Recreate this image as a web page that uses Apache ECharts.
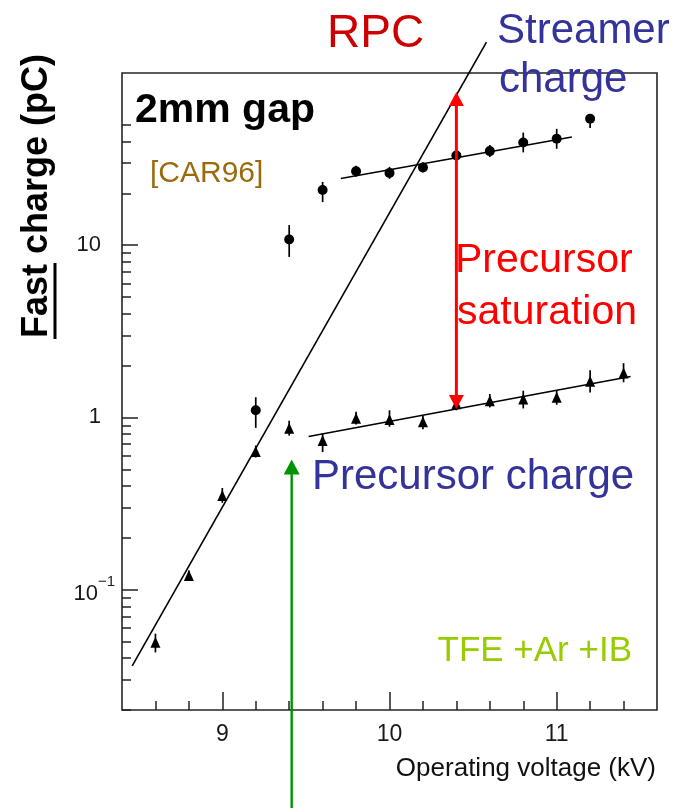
<!DOCTYPE html>
<html>
<head>
<meta charset="utf-8">
<script src="https://cdn.jsdelivr.net/npm/echarts@6/dist/echarts.min.js"></script>
<style>
  html, body { margin: 0; padding: 0; background: #fff; }
  #chart { width: 679px; height: 808px; }
</style>
</head>
<body>
<div id="chart"></div>
<script>
// ---- axis ticks ----
const voltageTicksMajor = [9, 10, 11];
const voltageTicksMinor = [8.6, 8.8, 9.2, 9.4, 9.6, 9.8, 10.2, 10.4, 10.6, 10.8, 11.2, 11.4];
const chargeTicksMajor = [0.1, 1, 10];
const chargeTicksMinor = [0.02, 0.03, 0.04, 0.05, 0.06, 0.07, 0.08, 0.09,
                          0.2, 0.3, 0.4, 0.5, 0.6, 0.7, 0.8, 0.9,
                          2, 3, 4, 5, 6, 7, 8, 9,
                          20, 30, 40, 50];

// ---- streamer charge (circles), pC ----
const streamerVolts  = [9.2, 9.4, 9.6, 9.8, 10.0, 10.2, 10.4, 10.6, 10.8, 11.0, 11.2];
const streamerCharge = [1.10, 10.8, 20.9, 26.9, 26.3, 28.3, 33.2, 35.2, 39.5, 41.5, 54.2];
const streamerLow    = [0.87, 8.55, 17.8, 25.0, 24.3, 26.5, 30.2, 32.5, 34.6, 36.3, 47.9];
const streamerHigh   = [1.31, 13.1, 23.3, 28.9, 28.5, 30.3, 36.5, 38.2, 45.1, 47.4, 54.2];

// ---- precursor charge (triangles), pC ----
const precursorVolts  = [8.6, 8.8, 9.0, 9.2, 9.4, 9.6, 9.8, 10.0, 10.2, 10.4, 10.6, 10.8, 11.0, 11.2, 11.4];
const precursorCharge = [0.0494, 0.1206, 0.352, 0.634, 0.866, 0.735, 0.99, 0.973, 0.943, 1.2, 1.25, 1.28, 1.31, 1.62, 1.81];
const precursorLow    = [0.0432, 0.113, 0.319, 0.585, 0.784, 0.629, 0.91, 0.882, 0.854, 1.1, 1.143, 1.128, 1.185, 1.397, 1.60];
const precursorHigh   = [0.0555, 0.129, 0.389, 0.687, 0.957, 0.807, 1.08, 1.10, 1.02, 1.33, 1.368, 1.43, 1.443, 1.876, 2.066];

// ---- fitted trends ----
const avalancheFitVolts  = [8.461, 10.580];
const avalancheFitCharge = [0.0361, 151];
const streamerFitVolts   = [9.709, 11.091];
const streamerFitCharge  = [24.4, 42.5];
const precursorFitVolts  = [9.516, 11.442];
const precursorFitCharge = [0.774, 1.727];

// ---- annotation arrows: [kV, tail pC, tip pC] ----
const saturationArrow = [10.4, 1.12, 77.5];
const onsetArrow      = [9.415, 0.0053, 0.57];

const FONT = '"Liberation Sans", Arial, Helvetica, sans-serif';

const zip = (a, b) => a.map((v, i) => [v, b[i]]);
const zip3 = (a, b, c) => a.map((v, i) => [v, b[i], c[i]]);

function errorBar(params, api) {
  const p1 = api.coord([api.value(0), api.value(1)]);
  const p2 = api.coord([api.value(0), api.value(2)]);
  return {
    type: 'line',
    shape: { x1: p1[0], y1: p1[1], x2: p2[0], y2: p2[1] },
    style: { stroke: '#000', lineWidth: 1.7 }
  };
}

function arrowRenderer(color, width, headW, headL, doubleHead) {
  return function (params, api) {
    const tail = api.coord([api.value(0), api.value(1)]);
    const tip = api.coord([api.value(0), api.value(2)]);
    const dir = tip[1] < tail[1] ? -1 : 1; // screen direction towards the tip
    const head = (pt, d) => ({
      type: 'polygon',
      shape: { points: [[pt[0], pt[1]], [pt[0] - headW / 2, pt[1] - d * headL], [pt[0] + headW / 2, pt[1] - d * headL]] },
      style: { fill: color }
    });
    const children = [{
      type: 'line',
      shape: {
        x1: tail[0], y1: tail[1] + (doubleHead ? dir * headL * 0.8 : 0),
        x2: tip[0], y2: tip[1] - dir * headL * 0.8
      },
      style: { stroke: color, lineWidth: width }
    }, head(tip, dir)];
    if (doubleHead) children.push(head(tail, -dir));
    return { type: 'group', children };
  };
}

const chart = echarts.init(document.getElementById('chart'), null, { renderer: 'canvas' });

const commonY = { type: 'log', logBase: 10, min: 0.02, max: 100, position: 'left', splitLine: { show: false }, axisLine: { show: false } };
const commonX = { type: 'value', min: 8.4, max: 11.6, position: 'bottom', splitLine: { show: false }, axisLine: { show: false } };

chart.setOption({
  animation: false,
  grid: { left: 122, right: 22, top: 73, bottom: 98, show: true, borderColor: '#262626', borderWidth: 1.6, backgroundColor: 'transparent' },
  xAxis: [
    Object.assign({}, commonX, {
      axisTick: { inside: true, length: 9, customValues: voltageTicksMinor, lineStyle: { color: '#222', width: 1.5 } },
      axisLabel: { show: false }
    }),
    Object.assign({}, commonX, {
      axisTick: { inside: true, length: 18, customValues: voltageTicksMajor, lineStyle: { color: '#222', width: 1.5 } },
      axisLabel: { customValues: voltageTicksMajor, margin: 13, fontSize: 23, color: '#1a1a1a', fontFamily: FONT, formatter: v => String(v) }
    })
  ],
  yAxis: [
    Object.assign({}, commonY, {
      axisTick: { inside: true, length: 9, customValues: chargeTicksMinor, lineStyle: { color: '#222', width: 1.5 } },
      axisLabel: { customValues: [1, 10], margin: 21, fontSize: 22, color: '#1a1a1a', fontFamily: FONT, formatter: v => String(Math.round(v)) }
    }),
    Object.assign({}, commonY, {
      axisTick: { inside: true, length: 16, customValues: chargeTicksMajor, lineStyle: { color: '#222', width: 1.5 } },
      axisLabel: {
        customValues: [0.1], margin: 7, fontFamily: FONT, color: '#1a1a1a',
        formatter: () => '{b|10}{s|\u22121}',
        rich: {
          b: { fontSize: 22, lineHeight: 30, verticalAlign: 'bottom', fontFamily: FONT, color: '#1a1a1a' },
          s: { fontSize: 15, lineHeight: 4, verticalAlign: 'top', fontFamily: FONT, color: '#1a1a1a' }
        }
      }
    })
  ],
  series: [
    { type: 'line', data: zip(avalancheFitVolts, avalancheFitCharge), symbol: 'none', clip: false, silent: true,
      lineStyle: { color: '#000', width: 1.6 }, z: 3 },
    { type: 'line', data: zip(streamerFitVolts, streamerFitCharge), symbol: 'none', silent: true,
      lineStyle: { color: '#000', width: 1.6 }, z: 3 },
    { type: 'line', data: zip(precursorFitVolts, precursorFitCharge), symbol: 'none', silent: true,
      lineStyle: { color: '#000', width: 1.6 }, z: 3 },
    { type: 'custom', renderItem: errorBar, data: zip3(streamerVolts, streamerLow, streamerHigh),
      encode: { x: 0, y: [1, 2] }, z: 4, silent: true },
    { type: 'custom', renderItem: errorBar, data: zip3(precursorVolts, precursorLow, precursorHigh),
      encode: { x: 0, y: [1, 2] }, z: 4, silent: true },
    { type: 'scatter', data: zip(streamerVolts, streamerCharge), symbol: 'circle', symbolSize: 10,
      itemStyle: { color: '#000', opacity: 1 }, z: 5, silent: true },
    { type: 'scatter', data: zip(precursorVolts, precursorCharge), symbol: 'triangle', symbolSize: [10, 11],
      itemStyle: { color: '#000', opacity: 1 }, z: 5, silent: true },
    { type: 'custom', renderItem: arrowRenderer('#ff0000', 3, 15, 14, true), data: [saturationArrow],
      encode: { x: 0, y: [1, 2] }, clip: false, z: 10, silent: true },
    { type: 'custom', renderItem: arrowRenderer('#009300', 2.4, 16, 15, false), data: [onsetArrow],
      encode: { x: 0, y: [1, 2] }, clip: false, z: 10, silent: true }
  ],
  graphic: [
    // vertical axis title with underlined "Fast"
    { type: 'text', x: 37, y: 338, rotation: Math.PI / 2, z: 20,
      style: { text: 'Fast charge (pC)', font: 'bold 36px ' + FONT, fill: '#000', align: 'left', verticalAlign: 'middle' } },
    { type: 'line', shape: { x1: 55, y1: 263, x2: 55, y2: 339 }, style: { stroke: '#000', lineWidth: 3 }, z: 20 },
    // horizontal axis title
    { type: 'text', x: 656, y: 769, z: 20,
      style: { text: 'Operating voltage (kV)', font: '26px ' + FONT, fill: '#111', align: 'right', verticalAlign: 'middle' } },
    // labels
    { type: 'text', x: 327, y: 34, z: 20,
      style: { text: 'RPC', font: '46px ' + FONT, fill: '#cc0000', align: 'left', verticalAlign: 'middle' } },
    { type: 'text', x: 497, y: 31, z: 20,
      style: { text: 'Streamer', font: '42px ' + FONT, fill: '#333399', align: 'left', verticalAlign: 'middle' } },
    { type: 'text', x: 499, y: 80, z: 20,
      style: { text: 'charge', font: '42px ' + FONT, fill: '#333399', align: 'left', verticalAlign: 'middle' } },
    { type: 'text', x: 135, y: 111, z: 20,
      style: { text: '2mm gap', font: 'bold 41px ' + FONT, fill: '#000', align: 'left', verticalAlign: 'middle' } },
    { type: 'text', x: 150, y: 173.5, z: 20,
      style: { text: '[CAR96]', font: '30px ' + FONT, fill: '#9a6a0c', align: 'left', verticalAlign: 'middle' } },
    { type: 'text', x: 455, y: 261, z: 20,
      style: { text: 'Precursor', font: '41px ' + FONT, fill: '#ff0000', align: 'left', verticalAlign: 'middle' } },
    { type: 'text', x: 457, y: 312.5, z: 20,
      style: { text: 'saturation', font: '41px ' + FONT, fill: '#ff0000', align: 'left', verticalAlign: 'middle' } },
    { type: 'text', x: 312, y: 477, z: 20,
      style: { text: 'Precursor charge', font: '42px ' + FONT, fill: '#333399', align: 'left', verticalAlign: 'middle' } },
    { type: 'text', x: 632, y: 651, z: 20,
      style: { text: 'TFE +Ar +IB', font: '35px ' + FONT, fill: '#99cc00', align: 'right', verticalAlign: 'middle' } }
  ]
});
</script>
</body>
</html>
